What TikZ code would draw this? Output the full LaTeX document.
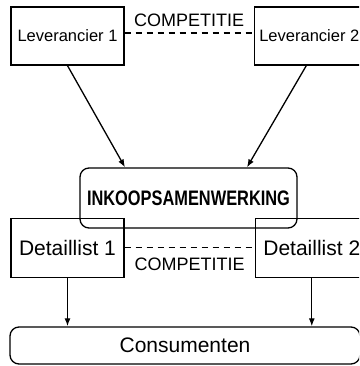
\documentclass[tikz,border=0pt]{standalone}
\usepackage{fontspec}
\setmainfont{Liberation Sans}
\newfontfamily\condbold[FakeStretch=0.78]{Liberation Sans Bold}
\usetikzlibrary{arrows.meta, positioning}

\begin{document}
\begin{tikzpicture}[x=1pt, y=1pt, >={Latex[length=8pt,width=6pt]}, line width=1.3pt,
  lev/.style={draw, rectangle, minimum width=113pt, minimum height=58pt, inner sep=0pt, font=\fontsize{16.5}{18}\selectfont},
  det/.style={draw, rectangle, minimum width=113pt, minimum height=59pt, inner sep=0pt, font=\fontsize{21}{23}\selectfont},
  comp/.style={font=\fontsize{18}{20}\selectfont}]
  % Rahmen wie im Bild
  \path[use as bounding box, clip] (0,0) rectangle (359,366);

  % Leveranciers oben
  \node[lev] (lev1) at (67.5,330) {Leverancier 1};
  \node[lev, right=129pt of lev1, minimum width=110pt] (lev2) {Leverancier 2};
  \draw[dashed, dash pattern=on 6pt off 5pt] ([yshift=3pt]lev1.east) -- node[comp, above, yshift=2pt]{COMPETITIE} ([yshift=3pt]lev2.west);

  % Inkoopsamenwerking
  \node[draw, rectangle, rounded corners=9pt, minimum width=217pt, minimum height=60pt, inner sep=0pt, font=\condbold\fontsize{21}{23}\selectfont] (ink) at (188.5,168) {INKOOPSAMENWERKING};
  \draw[->] (lev1.south) -- ([xshift=-63.5pt]ink.north);
  \draw[->] ([xshift=-3pt]lev2.south) -- ([xshift=58.5pt]ink.north);

  % Detaillisten
  \node[det, below=152pt of lev1] (det1) {Detaillist 1};
  \node[det, right=130pt of det1] (det2) {Detaillist 2};
  \draw[dashed, dash pattern=on 6pt off 5pt] (det1.east) -- node[comp, below, yshift=-6pt]{COMPETITIE} (det2.west);

  % Consumenten
  \node[draw, rectangle, rounded corners=9pt, minimum width=350pt, minimum height=37pt, inner sep=0pt, font=\fontsize{21}{23}\selectfont] (cons) at (185,20.5) {Consumenten};
  \draw[->] (det1.south) -- (det1.south |- cons.north);
  \draw[->] (det2.south) -- (det2.south |- cons.north);
\end{tikzpicture}
\end{document}
